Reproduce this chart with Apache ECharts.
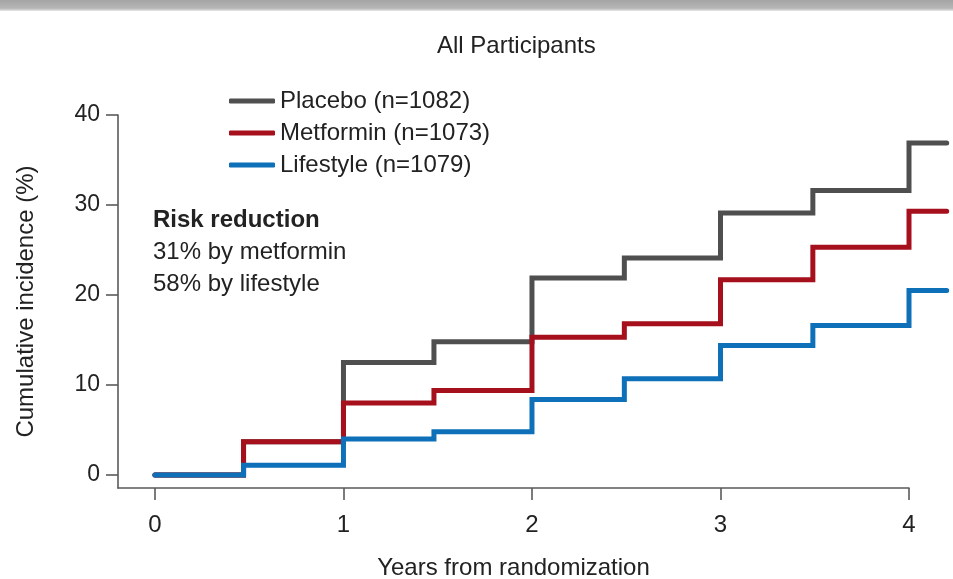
<!DOCTYPE html>
<html>
<head>
<meta charset="utf-8">
<title>All Participants</title>
<script src="https://cdn.jsdelivr.net/npm/echarts@6/dist/echarts.min.js"></script>
<style>
  html, body { margin: 0; padding: 0; background: #fff; }
  #chart { width: 953px; height: 579px; }
</style>
</head>
<body>
<div id="chart"></div>
<script>
// Cumulative incidence (%) by year since randomization, step functions
const years = [0, 0.47, 1, 1.48, 2, 2.49, 3, 3.49, 4, 4.2];
const placebo = [0, 3.7, 12.5, 14.8, 21.9, 24.1, 29.1, 31.6, 36.9, 36.9];
const metformin = [0, 3.7, 8.0, 9.4, 15.3, 16.8, 21.7, 25.3, 29.3, 29.3];
const lifestyle = [0, 1.1, 4.0, 4.8, 8.4, 10.7, 14.4, 16.6, 20.5, 20.5];

const seriesNames = ['Placebo (n=1082)', 'Metformin (n=1073)', 'Lifestyle (n=1079)'];
const seriesColors = ['#4f4f4f', '#a60f1c', '#0e70b8'];

const xTicks = [0, 1, 2, 3, 4];
const yTicks = [0, 10, 20, 30, 40];

const riskTitle = 'Risk reduction';
const riskLines = ['31% by metformin', '58% by lifestyle'];

const FONT = '"Liberation Sans", Arial, Helvetica, sans-serif';
const TEXT = '#222';
const AXIS = '#5a5a5a';

// shared scale: the x axis starts a little left of 0 and the y axis a little below 0
const X_MIN = -0.196, X_AXIS_MAX = 4, X_DATA_MAX = 4.2;
const Y_MIN = -1.44, Y_MAX = 40;
const PLOT_LEFT = 118, PLOT_TOP = 115, PLOT_BOTTOM = 91;
const AXIS_RIGHT = 44;
const PX_PER_YEAR = (953 - AXIS_RIGHT - PLOT_LEFT) / (X_AXIS_MAX - X_MIN);
const DATA_RIGHT = 953 - PLOT_LEFT - PX_PER_YEAR * (X_DATA_MAX - X_MIN);

function pairs(ys) {
  return years.map((x, i) => [x, ys[i]]);
}

function stepSeries(name, ys, color) {
  return {
    name: name,
    type: 'line',
    step: 'end',
    xAxisIndex: 1,
    yAxisIndex: 1,
    showSymbol: false,
    symbol: 'none',
    data: pairs(ys),
    lineStyle: { color: color, width: 5, cap: 'round', join: 'miter' },
    itemStyle: { color: color },
    emphasis: { disabled: true }
  };
}

const chart = echarts.init(document.getElementById('chart'), null, { renderer: 'canvas' });

chart.setOption({
  animation: false,
  backgroundColor: '#fff',
  textStyle: { fontFamily: FONT },
  title: {
    text: 'All Participants',
    left: 437,
    top: 34,
    padding: 0,
    textStyle: { fontFamily: FONT, fontSize: 24, fontWeight: 'normal', color: TEXT }
  },
  legend: {
    orient: 'vertical',
    left: 229,
    top: 89,
    padding: 0,
    itemGap: 8,
    itemWidth: 46,
    itemHeight: 5,
    icon: 'roundRect',
    selectedMode: false,
    data: seriesNames,
    textStyle: { fontFamily: FONT, fontSize: 24, color: TEXT, lineHeight: 24, padding: [0, 0, 0, 0] }
  },
  grid: [
    // axes frame (L-shaped, x line ends at 4)
    { left: PLOT_LEFT, right: AXIS_RIGHT, top: PLOT_TOP, bottom: PLOT_BOTTOM, containLabel: false, outerBoundsMode: 'none' },
    // curves, running a bit past year 4
    { left: PLOT_LEFT, right: DATA_RIGHT, top: PLOT_TOP, bottom: PLOT_BOTTOM, containLabel: false, outerBoundsMode: 'none' }
  ],
  xAxis: [
    {
      type: 'value',
      gridIndex: 0,
      min: X_MIN,
      max: X_AXIS_MAX,
      splitLine: { show: false },
      axisLine: { show: true, onZero: false, lineStyle: { color: AXIS, width: 1.6 } },
      axisTick: { show: true, length: 12, inside: false, customValues: xTicks, lineStyle: { color: AXIS, width: 1.6 } },
      axisLabel: { customValues: xTicks, margin: 25, fontFamily: FONT, fontSize: 24, color: TEXT },
      name: 'Years from randomization',
      nameLocation: 'middle',
      nameGap: 68,
      nameTextStyle: { fontFamily: FONT, fontSize: 24, color: TEXT }
    },
    {
      type: 'value',
      gridIndex: 1,
      min: X_MIN,
      max: X_DATA_MAX,
      show: false
    }
  ],
  yAxis: [
    {
      type: 'value',
      gridIndex: 0,
      min: Y_MIN,
      max: Y_MAX,
      splitLine: { show: false },
      axisLine: { show: true, onZero: false, lineStyle: { color: AXIS, width: 1.6 } },
      axisTick: { show: true, length: 12, inside: false, customValues: yTicks, lineStyle: { color: AXIS, width: 1.6 } },
      axisLabel: { customValues: yTicks, margin: 18, fontFamily: FONT, fontSize: 23, color: TEXT },
      name: 'Cumulative incidence (%)',
      nameLocation: 'middle',
      nameGap: 80,
      nameRotate: 90,
      nameTextStyle: { fontFamily: FONT, fontSize: 24, color: TEXT }
    },
    {
      type: 'value',
      gridIndex: 1,
      min: Y_MIN,
      max: Y_MAX,
      show: false
    }
  ],
  graphic: [
    {
      type: 'rect',
      left: 0,
      top: 0,
      shape: { width: 953, height: 11 },
      style: {
        fill: new echarts.graphic.LinearGradient(0, 0, 0, 1, [
          { offset: 0, color: '#a4a4a4' },
          { offset: 0.75, color: '#b6b6b6' },
          { offset: 1, color: '#e6e6e6' }
        ])
      },
      silent: true
    },
    {
      type: 'text',
      left: 153,
      top: 208,
      style: {
        text: '{b|' + riskTitle + '}\n' + riskLines.map(s => '{n|' + s + '}').join('\n'),
        rich: {
          b: { fontFamily: FONT, fontSize: 24, fontWeight: 'bold', fill: TEXT, lineHeight: 32 },
          n: { fontFamily: FONT, fontSize: 24, fill: TEXT, lineHeight: 32 }
        }
      },
      silent: true
    }
  ],
  series: [
    stepSeries(seriesNames[0], placebo, seriesColors[0]),
    stepSeries(seriesNames[1], metformin, seriesColors[1]),
    stepSeries(seriesNames[2], lifestyle, seriesColors[2])
  ]
});
</script>
</body>
</html>
